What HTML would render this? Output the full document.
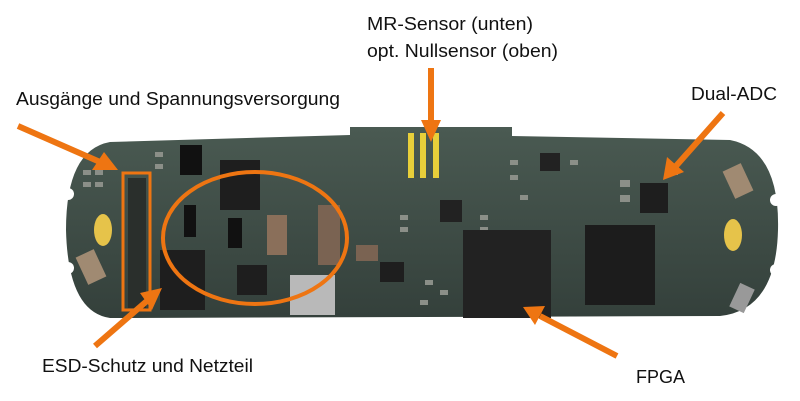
<!DOCTYPE html>
<html><head><meta charset="utf-8"><style>
html,body{margin:0;padding:0;background:#fff;}
svg{display:block}
text{font-family:"Liberation Sans Narrow","Liberation Sans",sans-serif;font-size:18px;fill:#111}
</style></head><body>
<svg width="800" height="401" viewBox="0 0 800 401" xmlns="http://www.w3.org/2000/svg">
<defs>
<linearGradient id="bd" x1="0" y1="0" x2="0" y2="1">
<stop offset="0" stop-color="#4a5a52"/><stop offset="1" stop-color="#34403b"/>
</linearGradient>
</defs>
<path d="M110 142 L350 135 L350 127 L512 127 L512 136 L730 140 Q780 150 778 230 Q776 310 720 316 L110 318 Q68 312 66 230 Q66 150 110 142 Z" fill="url(#bd)"/>
<circle cx="68" cy="194" r="6" fill="#fff"/>
<circle cx="68" cy="268" r="6" fill="#fff"/>
<circle cx="776" cy="200" r="6" fill="#fff"/>
<circle cx="776" cy="270" r="6" fill="#fff"/>
<ellipse cx="103" cy="230" rx="9" ry="16" fill="#e6c34a"/>
<ellipse cx="733" cy="235" rx="9" ry="16" fill="#e6c34a"/>
<rect x="408" y="133" width="6" height="45" fill="#e8cf3a"/>
<rect x="420" y="133" width="6" height="45" fill="#e8cf3a"/>
<rect x="433" y="133" width="6" height="45" fill="#e8cf3a"/>
<g fill="#8b8f88">
<rect x="83" y="170" width="8" height="5"/><rect x="95" y="170" width="8" height="5"/>
<rect x="83" y="182" width="8" height="5"/><rect x="95" y="182" width="8" height="5"/>
<rect x="155" y="152" width="8" height="5"/><rect x="155" y="164" width="8" height="5"/>
<rect x="400" y="215" width="8" height="5"/><rect x="400" y="227" width="8" height="5"/>
<rect x="480" y="215" width="8" height="5"/><rect x="480" y="227" width="8" height="5"/>
<rect x="510" y="160" width="8" height="5"/><rect x="510" y="175" width="8" height="5"/>
<rect x="520" y="195" width="8" height="5"/><rect x="570" y="160" width="8" height="5"/>
<rect x="620" y="180" width="10" height="7"/><rect x="620" y="195" width="10" height="7"/>
<rect x="670" y="170" width="8" height="5"/><rect x="420" y="300" width="8" height="5"/>
<rect x="425" y="280" width="8" height="5"/><rect x="440" y="290" width="8" height="5"/>
</g>
<rect x="463" y="230" width="88" height="88" fill="#222"/>
<rect x="640" y="183" width="28" height="30" fill="#1e1e1e"/>
<rect x="540" y="153" width="20" height="18" fill="#222"/>
<rect x="440" y="200" width="22" height="22" fill="#222"/>
<rect x="585" y="225" width="70" height="80" fill="#1c1c1c"/>
<rect x="160" y="250" width="45" height="60" fill="#1e1e1e"/>
<rect x="220" y="160" width="40" height="50" fill="#1e1e1e"/>
<rect x="237" y="265" width="30" height="30" fill="#1e1e1e"/>
<rect x="290" y="275" width="45" height="40" fill="#b9b9b9"/>
<rect x="267" y="215" width="20" height="40" fill="#8a6f5a"/>
<rect x="318" y="205" width="22" height="60" fill="#7a6352"/>
<rect x="180" y="145" width="22" height="30" fill="#111"/>
<rect x="184" y="205" width="12" height="32" fill="#111"/>
<rect x="228" y="218" width="14" height="30" fill="#111"/>
<rect x="81" y="252" width="20" height="30" fill="#a08a72" transform="rotate(-25 91 267)"/>
<rect x="728" y="166" width="20" height="30" fill="#a08a72" transform="rotate(-25 738 181)"/>
<rect x="734" y="285" width="16" height="26" fill="#999" transform="rotate(25 742 298)"/>
<rect x="128" y="178" width="18" height="130" fill="#2a2f2c"/>
<rect x="356" y="245" width="22" height="16" fill="#7a6352"/>
<rect x="380" y="262" width="24" height="20" fill="#1e1e1e"/>
<g stroke="#ee7512" fill="none">
<rect x="123" y="173" width="27" height="137" stroke-width="3"/>
<ellipse cx="255" cy="238" rx="92" ry="66" stroke-width="4"/>
<line x1="18" y1="126" x2="100" y2="162" stroke-width="6"/>
<line x1="431" y1="68" x2="431" y2="125" stroke-width="6"/>
<line x1="723" y1="113" x2="676" y2="166" stroke-width="6"/>
<line x1="95" y1="346" x2="148" y2="300" stroke-width="6"/>
<line x1="617" y1="356" x2="540" y2="316" stroke-width="6"/>
</g>
<g fill="#ee7512">
<polygon points="118,170 92,170 104,152"/>
<polygon points="431,142 421,120 441,120"/>
<polygon points="663,180 667,157 684,172"/>
<polygon points="162,288 152,310 140,293"/>
<polygon points="523,307 545,306 535,325"/>
</g>
<text x="367" y="30" textLength="166" lengthAdjust="spacingAndGlyphs">MR-Sensor (unten)</text>
<text x="367" y="57" textLength="191" lengthAdjust="spacingAndGlyphs">opt. Nullsensor (oben)</text>
<text x="16" y="105" textLength="324" lengthAdjust="spacingAndGlyphs">Ausgänge und Spannungsversorgung</text>
<text x="691" y="100" textLength="86" lengthAdjust="spacingAndGlyphs">Dual-ADC</text>
<text x="42" y="372" textLength="211" lengthAdjust="spacingAndGlyphs">ESD-Schutz und Netzteil</text>
<text x="636" y="383">FPGA</text>
</svg>
</body></html>
